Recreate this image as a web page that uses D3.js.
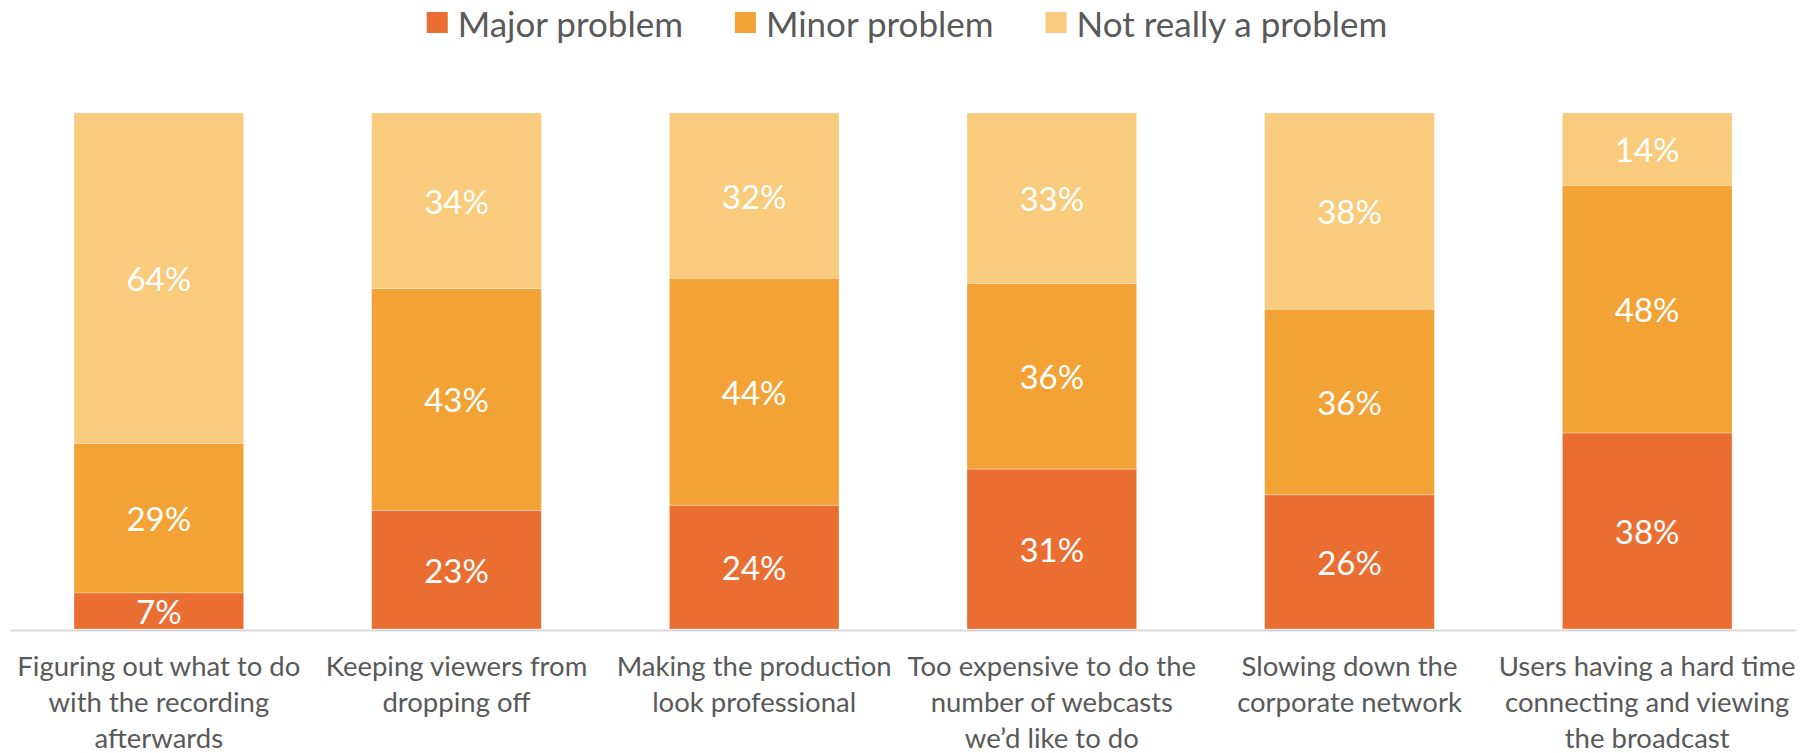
<!DOCTYPE html>
<html>
<head>
<meta charset="utf-8">
<script src="https://cdn.jsdelivr.net/npm/d3@7"></script>
<style>
  body { margin: 0; background: #fff; }
  svg text { font-family: Lato, "Open Sans", sans-serif; }
</style>
</head>
<body>
<svg id="chart"></svg>
<script>
const width = 1804;
const height = 753;

// data
const categories = [
  'Figuring out what to do with the recording afterwards',
  'Keeping viewers from dropping off',
  'Making the production look professional',
  'Too expensive to do the number of webcasts we’d like to do',
  'Slowing down the corporate network',
  'Users having a hard time connecting and viewing the broadcast'
];
const categoryLines = [
  ['Figuring out what to do', 'with the recording', 'afterwards'],
  ['Keeping viewers from', 'dropping off'],
  ['Making the production', 'look professional'],
  ['Too expensive to do the', 'number of webcasts', 'we’d like to do'],
  ['Slowing down the', 'corporate network'],
  ['Users having a hard time', 'connecting and viewing', 'the broadcast']
];
const seriesNames = ['Major problem', 'Minor problem', 'Not really a problem'];
const majorProblem = [7, 23, 24, 31, 26, 38];
const minorProblem = [29, 43, 44, 36, 36, 48];
const notReally = [64, 34, 32, 33, 38, 14];
const colors = ['#EA6D31', '#F3A336', '#F9CB7C'];

const rows = categories.map((c, i) => ({
  cat: c,
  'Major problem': majorProblem[i],
  'Minor problem': minorProblem[i],
  'Not really a problem': notReally[i]
}));

const svg = d3.select('#chart').attr('width', width).attr('height', height);

const xScale = d3.scaleBand().domain(categories).range([10, 1796])
  .paddingInner(0.43).paddingOuter(0.215);
const yScale = d3.scaleLinear().domain([0, 100]).range([629, 113]);
const color = d3.scaleOrdinal().domain(seriesNames).range(colors);

const stacked = d3.stack().keys(seriesNames)(rows);

const layers = svg.selectAll('g.layer').data(stacked).enter().append('g')
  .attr('class', 'layer')
  .attr('fill', d => color(d.key));

layers.selectAll('rect').data(d => d).enter().append('rect')
  .attr('x', d => xScale(d.data.cat))
  .attr('width', xScale.bandwidth())
  .attr('y', d => yScale(d[1]))
  .attr('height', d => yScale(d[0]) - yScale(d[1]))
  .attr('stroke', '#fff').attr('stroke-width', 0.6).attr('stroke-opacity', 0.5);

layers.selectAll('text').data(d => d).enter().append('text')
  .attr('x', d => xScale(d.data.cat) + xScale.bandwidth() / 2)
  .attr('y', d => (yScale(d[0]) + yScale(d[1])) / 2)
  .attr('text-anchor', 'middle')
  .attr('dominant-baseline', 'central')
  .attr('fill', '#fff')
  .style('font-size', '33px')
  .text(d => (d[1] - d[0]) + '%');

// x axis
const xAxis = d3.axisBottom(xScale).tickSize(0).tickFormat('');
const axisG = svg.append('g').attr('transform', `translate(0,${yScale(0) + 1})`).call(xAxis);
axisG.select('.domain').attr('stroke', '#D9D9D9').attr('stroke-width', 2);

const labels = svg.append('g').selectAll('text').data(categories).enter().append('text')
  .attr('text-anchor', 'middle')
  .attr('fill', '#595959')
  .style('font-size', '27.5px');
labels.each(function(c, i) {
  const t = d3.select(this);
  categoryLines[i].forEach((line, j) => {
    t.append('tspan')
      .attr('x', xScale(c) + xScale.bandwidth() / 2)
      .attr('y', 676 + j * 36)
      .text(line);
  });
});

// legend
const legend = svg.append('g');
const items = legend.selectAll('g').data(seriesNames).enter().append('g');
items.append('rect').attr('width', 21).attr('height', 21).attr('y', 12)
  .attr('fill', d => color(d));
items.append('text').attr('x', 31).attr('y', 23)
  .attr('dominant-baseline', 'central')
  .attr('fill', '#595959')
  .style('font-size', '35px')
  .text(d => d);
let xpos = 0;
items.each(function() {
  const g = d3.select(this);
  g.attr('transform', `translate(${xpos},0)`);
  xpos += 31 + g.select('text').node().getComputedTextLength() + 52;
});
const legendWidth = xpos - 52;
legend.attr('transform', `translate(${907 - legendWidth / 2},0)`);
</script>
</body>
</html>
